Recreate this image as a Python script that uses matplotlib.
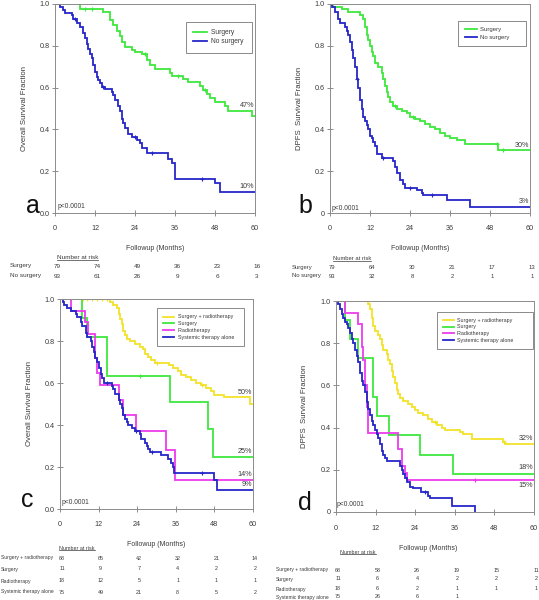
import numpy as np
import matplotlib
matplotlib.use("Agg")
import matplotlib.pyplot as plt
from matplotlib.transforms import blended_transform_factory
from matplotlib.lines import Line2D

plt.rcParams['font.family'] = ['Liberation Sans', 'DejaVu Sans']

# ---------------- data ----------------
xticks = [0, 12, 24, 36, 48, 60]

# Panel a: overall survival, surgery vs no surgery
a_surg_t = [7.5, 14.5, 16.5, 17.5, 18.5, 19.5, 20, 21, 23, 24, 26, 27.5, 28.5, 30, 34.5, 35,
            38.5, 40, 43.5, 44.5, 45.5, 46.5, 48, 51, 52, 59]
a_surg_s = [0.975, 0.96, 0.925, 0.90, 0.87, 0.845, 0.82, 0.795, 0.78, 0.77, 0.76, 0.73, 0.71,
            0.69, 0.67, 0.655, 0.64, 0.625, 0.61, 0.59, 0.57, 0.55, 0.53, 0.51, 0.49, 0.465]
a_nos_t = [1.5, 2.5, 3, 5, 5.5, 6.5, 7.5, 8.5, 9, 9.5, 10, 10.5, 11, 11.5, 12, 12.5, 13, 13.5,
           14, 15, 17, 17.5, 18, 19, 19.5, 20, 20.5, 21, 22, 23, 24.5, 25.5, 26, 27.5, 34, 35,
           36, 48, 49.5]
a_nos_s = [0.985, 0.97, 0.955, 0.945, 0.93, 0.91, 0.89, 0.86, 0.835, 0.81, 0.785, 0.76, 0.74,
           0.71, 0.675, 0.65, 0.635, 0.62, 0.605, 0.595, 0.58, 0.565, 0.54, 0.51, 0.49, 0.45,
           0.43, 0.405, 0.38, 0.365, 0.35, 0.335, 0.31, 0.285, 0.26, 0.24, 0.165, 0.145, 0.10]
a_surg_cens = [9, 11, 27, 37, 45]
a_nos_cens = [6, 14.5, 24, 29, 44]

# Panel b: DPFS, surgery vs no surgery
b_surg_t = [1, 3.5, 5.5, 9, 10, 10.5, 11, 11.5, 12, 12.5, 13, 13.5, 14.5, 15.5, 16, 16.5, 17,
            17.5, 18, 19, 20, 21.5, 23, 24, 25.5, 27, 28.5, 30, 31.5, 33, 34.5, 36, 38, 40.5, 50.5]
b_surg_s = [0.985, 0.975, 0.96, 0.945, 0.93, 0.89, 0.85, 0.83, 0.80, 0.77, 0.75, 0.72, 0.70,
            0.67, 0.64, 0.61, 0.58, 0.555, 0.53, 0.51, 0.50, 0.49, 0.48, 0.46, 0.45, 0.44, 0.425,
            0.41, 0.40, 0.385, 0.37, 0.36, 0.35, 0.33, 0.30]
b_nos_t = [0.5, 1.5, 2.5, 3, 4.5, 5, 5.5, 6, 6.5, 7, 7.5, 8, 8.5, 9, 9.5, 10, 10.5, 11, 11.5,
           12, 12.5, 13, 13.5, 14, 15.5, 19, 19.5, 20, 21, 22, 22.5, 26, 27.5, 28, 35, 42]
b_nos_s = [0.985, 0.96, 0.93, 0.91, 0.89, 0.87, 0.85, 0.82, 0.78, 0.74, 0.70, 0.64, 0.60, 0.54,
           0.50, 0.46, 0.44, 0.42, 0.40, 0.37, 0.36, 0.34, 0.32, 0.28, 0.265, 0.25, 0.22, 0.19,
           0.16, 0.14, 0.12, 0.11, 0.095, 0.085, 0.06, 0.03]
b_surg_cens = [19.5, 25, 50, 52]
b_nos_cens = [8, 16, 24, 30.5]

# Panel c: overall survival by treatment
c_sr_t = [15.6, 16.6, 17.7, 18.2, 18.7, 19.2, 19.7, 20.2, 20.7, 21.8, 23.3, 24.8, 25.8, 26.4,
          27.4, 28.4, 29.4, 34.0, 35.0, 36.6, 37.6, 39.1, 40.7, 42.2, 43.7, 45.3, 46.8, 47.8,
          50.9, 59.0]
c_sr_s = [0.985, 0.97, 0.955, 0.93, 0.905, 0.88, 0.85, 0.83, 0.81, 0.80, 0.785, 0.77, 0.76,
          0.74, 0.725, 0.71, 0.695, 0.685, 0.67, 0.655, 0.64, 0.63, 0.615, 0.60, 0.59, 0.575,
          0.56, 0.545, 0.535, 0.50]
c_s_t = [6.8, 8.5, 14.6, 34.3, 46.0, 47.6]
c_s_s = [0.91, 0.82, 0.635, 0.51, 0.38, 0.25]
c_r_t = [3.4, 7.8, 8.8, 10.9, 11.5, 12.3, 18.2, 19.5, 23.5, 33.0, 35.8]
c_r_s = [0.944, 0.889, 0.833, 0.72, 0.65, 0.59, 0.52, 0.447, 0.37, 0.28, 0.14]
c_b_t = [0.8, 1.3, 2.3, 3.4, 4.9, 5.4, 6.4, 6.9, 8.0, 8.5, 9.5, 10.0, 10.5, 11.0, 11.5, 12.1,
         12.6, 13.1, 13.6, 16.1, 16.6, 17.2, 18.2, 18.7, 19.2, 19.7, 20.2, 20.7, 21.2, 22.3,
         23.3, 24.8, 25.3, 26.4, 26.9, 27.4, 27.9, 31.5, 33.5, 34.5, 35.0, 35.5, 47.8, 48.8]
c_b_s = [0.985, 0.97, 0.955, 0.945, 0.93, 0.915, 0.89, 0.87, 0.84, 0.82, 0.80, 0.77, 0.75,
         0.72, 0.70, 0.67, 0.645, 0.625, 0.60, 0.585, 0.57, 0.55, 0.52, 0.50, 0.48, 0.45, 0.43,
         0.415, 0.40, 0.385, 0.37, 0.355, 0.335, 0.315, 0.30, 0.285, 0.27, 0.255, 0.24, 0.22,
         0.20, 0.17, 0.14, 0.09]
c_sr_cens = [7, 8.5, 10, 11.5, 13, 14.5, 30, 44]
c_s_cens = [25]
c_r_cens = []
c_b_cens = [14.5, 23.5, 28.5, 44]

# Panel d: DPFS by treatment
d_sr_t = [9.8, 10.3, 10.8, 11.3, 11.8, 12.8, 13.3, 13.8, 14.3, 15.4, 15.9, 16.4, 16.9, 17.4,
          17.9, 18.4, 18.9, 19.4, 20.4, 21.9, 22.9, 23.9, 24.9, 26.5, 28.0, 29.0, 30.5, 32.0,
          33.0, 37.6, 38.6, 41.1, 50.7, 51.2]
d_sr_s = [0.985, 0.96, 0.92, 0.88, 0.86, 0.84, 0.82, 0.79, 0.77, 0.75, 0.72, 0.70, 0.67, 0.64,
          0.61, 0.58, 0.56, 0.54, 0.525, 0.51, 0.50, 0.485, 0.47, 0.46, 0.44, 0.425, 0.41, 0.40,
          0.39, 0.38, 0.37, 0.345, 0.33, 0.32]
d_s_t = [2.7, 4.3, 6.8, 11.1, 12.3, 16.2, 25.5, 35.4]
d_s_s = [0.91, 0.82, 0.73, 0.545, 0.455, 0.365, 0.27, 0.18]
d_r_t = [2.7, 6.8, 7.8, 8.3, 8.8, 9.3, 9.8, 18.9, 19.9, 20.9, 21.4]
d_r_s = [0.944, 0.889, 0.78, 0.72, 0.60, 0.50, 0.376, 0.30, 0.22, 0.185, 0.15]
d_b_t = [0.7, 1.2, 1.7, 2.2, 2.7, 3.2, 3.7, 4.2, 4.7, 5.2, 5.8, 6.3, 6.8, 7.3, 7.8, 8.3, 8.8,
         9.3, 9.8, 10.3, 10.8, 11.3, 11.8, 12.3, 12.8, 13.3, 13.8, 14.3, 14.8, 15.4, 19.4, 19.9,
         20.4, 20.9, 21.4, 22.4, 23.4, 25.9, 27.9, 28.5, 35.0, 42.1]
d_b_s = [0.985, 0.96, 0.94, 0.92, 0.90, 0.89, 0.87, 0.85, 0.82, 0.80, 0.77, 0.74, 0.71, 0.66,
         0.62, 0.60, 0.57, 0.52, 0.49, 0.46, 0.43, 0.41, 0.39, 0.37, 0.35, 0.32, 0.29, 0.27,
         0.255, 0.24, 0.22, 0.20, 0.18, 0.16, 0.14, 0.12, 0.115, 0.095, 0.075, 0.065, 0.03, 0.0]
d_sr_cens = [30, 51]
d_s_cens = []
d_r_cens = [42]
d_b_cens = [27]

# risk tables
a_risk_labels = ["Surgery", "No surgery"]
a_risk = [[79, 74, 49, 36, 23, 16], [93, 61, 26, 9, 6, 3]]
b_risk_labels = ["Surgery", "No surgery"]
b_risk = [[79, 64, 30, 21, 17, 13], [93, 32, 8, 2, 1, 1]]
cd_labels = ["Surgery + radiotherapy", "Surgery", "Radiotherapy", "Systemic therapy alone"]
c_risk = [[68, 65, 42, 32, 21, 14], [11, 9, 7, 4, 2, 2], [18, 12, 5, 1, 1, 1], [75, 49, 21, 8, 5, 2]]
d_risk = [[68, 58, 26, 19, 15, 11], [11, 6, 4, 2, 2, 2], [18, 6, 2, 1, 1, 1], [75, 26, 6, 1]]

# percent labels
a_pct = ["47%", "10%"]
b_pct = ["30%", "3%"]
c_pct = ["50%", "25%", "14%", "9%"]
d_pct = ["32%", "18%", "15%"]

# ---------------- styling ----------------
GREEN = "#3ee83e"
BLUE = "#2626c8"
YELLOW = "#f2e22a"
MAGENTA = "#ec3cec"
GRAY = "#8c8c8c"
TXT = "#3a3a3a"

W, H = 539, 600
fig = plt.figure(figsize=(W / 100, H / 100), dpi=100)
fig.patch.set_facecolor("white")


def fx(x):
    return x / W


def fy(y):
    return 1 - y / H


def make_ax(l, r, t, b):
    return fig.add_axes([fx(l), fy(b), fx(r) - fx(l), fy(t) - fy(b)])


def step_fn(t, s, x):
    t = np.asarray(t)
    s = np.asarray(s)
    idx = np.searchsorted(t, x, side="right") - 1
    return np.where(idx < 0, 1.0, s[np.clip(idx, 0, None)])


def km(ax, t, s, color, cens=None, end=60, lw=1.3):
    x = np.concatenate([[0], t])
    y = np.concatenate([[1.0], s])
    if end is not None and end > x[-1]:
        x = np.concatenate([x, [end]])
        y = np.concatenate([y, [y[-1]]])
    line, = ax.step(x, y, where="post", color=color, lw=lw, solid_joinstyle="miter")
    if cens:
        cx = np.asarray(cens, dtype=float)
        ax.plot(cx, step_fn(t, s, cx), ls="none", marker="+", ms=3.5, mew=0.8, color=color)
    return line


def style_ax(ax, ylabel, zero_label, tick_fs=5.2, ylab_fs=5.6, ylab_x=-0.135):
    ax.set_xlim(0, 60)
    ax.set_ylim(0, 1.0)
    ax.set_xticks(xticks)
    ax.set_xticklabels([str(v) for v in xticks])
    yt = [0, 0.2, 0.4, 0.6, 0.8, 1.0]
    ax.set_yticks(yt)
    ax.set_yticklabels([zero_label, "0.2", "0.4", "0.6", "0.8", "1.0"])
    for sp in ax.spines.values():
        sp.set_color(GRAY)
        sp.set_linewidth(0.7)
    ax.tick_params(axis="both", direction="inout", length=4, width=0.7, color=GRAY,
                   labelsize=tick_fs, labelcolor=TXT)
    ax.tick_params(axis="x", pad=7)
    ax.tick_params(axis="y", pad=2)
    ax.set_ylabel(ylabel, fontsize=ylab_fs, color=TXT)
    ax.yaxis.set_label_coords(ylab_x, 0.5)


def legend(ax, handles, labels, anchor, fs, pad_right):
    lg = ax.legend(handles, [l + pad_right for l in labels], loc="upper left",
                   bbox_to_anchor=anchor, fontsize=fs, frameon=True, fancybox=False,
                   edgecolor="#555555", borderpad=1.1, handlelength=2.0, handletextpad=0.6,
                   labelspacing=0.35, borderaxespad=0)
    lg.get_frame().set_linewidth(0.6)
    for txt in lg.get_texts():
        txt.set_color(TXT)
    return lg


# ---------------- panel a ----------------
ax_a = make_ax(55, 255, 4, 213)
la1 = km(ax_a, a_surg_t, a_surg_s, GREEN, a_surg_cens)
la2 = km(ax_a, a_nos_t, a_nos_s, BLUE, a_nos_cens)
style_ax(ax_a, "Overall Survival Fraction", "0.0")
legend(ax_a, [la1, la2], ["Surgery", "No surgery"], (0.655, 0.915), 4.8, " ")
ax_a.text(59.8, step_fn(a_surg_t, a_surg_s, 57) + 0.008, a_pct[0], ha="right", va="bottom",
          fontsize=5.2, color=TXT)
ax_a.text(59.8, step_fn(a_nos_t, a_nos_s, 57) + 0.008, a_pct[1], ha="right", va="bottom",
          fontsize=5.2, color=TXT)

# ---------------- panel b ----------------
ax_b = make_ax(330, 530, 4, 213)
lb1 = km(ax_b, b_surg_t, b_surg_s, GREEN, b_surg_cens)
lb2 = km(ax_b, b_nos_t, b_nos_s, BLUE, b_nos_cens)
style_ax(ax_b, "DPFS  Survival Fraction", "0")
legend(ax_b, [lb1, lb2], ["Surgery", "No surgery"], (0.64, 0.92), 4.3, "      ")
ax_b.text(59.8, step_fn(b_surg_t, b_surg_s, 57) + 0.008, b_pct[0], ha="right", va="bottom",
          fontsize=5.2, color=TXT)
ax_b.text(59.8, step_fn(b_nos_t, b_nos_s, 57) + 0.008, b_pct[1], ha="right", va="bottom",
          fontsize=5.2, color=TXT)

# ---------------- panel c ----------------
ax_c = make_ax(60, 253, 299, 509)
lc1 = km(ax_c, c_sr_t, c_sr_s, YELLOW, c_sr_cens)
lc2 = km(ax_c, c_s_t, c_s_s, GREEN, c_s_cens)
lc3 = km(ax_c, c_r_t, c_r_s, MAGENTA, c_r_cens)
lc4 = km(ax_c, c_b_t, c_b_s, BLUE, c_b_cens)
style_ax(ax_c, "Overall Survival Fraction", "0.0", ylab_x=-0.14)
legend(ax_c, [lc1, lc2, lc3, lc4], cd_labels, (0.505, 0.955), 3.9, "   ")
for lab, (tt, ss), off in zip(c_pct, [(c_sr_t, c_sr_s), (c_s_t, c_s_s), (c_r_t, c_r_s), (c_b_t, c_b_s)],
                              [0.005, 0.008, 0.008, 0.008]):
    ax_c.text(59.8, step_fn(tt, ss, 57) + off, lab, ha="right", va="bottom", fontsize=5.2,
              color=TXT)

# ---------------- panel d ----------------
ax_d = make_ax(336, 534, 301, 512)
ld1 = km(ax_d, d_sr_t, d_sr_s, YELLOW, d_sr_cens)
ld2 = km(ax_d, d_s_t, d_s_s, GREEN, d_s_cens)
ld3 = km(ax_d, d_r_t, d_r_s, MAGENTA, d_r_cens)
ld4 = km(ax_d, d_b_t, d_b_s, BLUE, d_b_cens, end=None)
style_ax(ax_d, "DPFS  Survival Fraction", "0", ylab_x=-0.14)
legend(ax_d, [ld1, ld2, ld3, ld4], cd_labels, (0.51, 0.95), 3.9, "         ")
ax_d.text(59.8, step_fn(d_sr_t, d_sr_s, 57) + 0.012, d_pct[0], ha="right", va="bottom",
          fontsize=5.2, color=TXT)
ax_d.text(59.8, step_fn(d_s_t, d_s_s, 57) + 0.012, d_pct[1], ha="right", va="bottom",
          fontsize=5.2, color=TXT)
ax_d.text(59.8, step_fn(d_r_t, d_r_s, 57) - 0.01, d_pct[2], ha="right", va="top",
          fontsize=5.2, color=TXT)

# ---------------- panel letters and p-values ----------------
for letter, x, y in [("a", 33, 213), ("b", 305, 213), ("c", 27, 507), ("d", 305, 510)]:
    fig.text(fx(x), fy(y), letter, ha="center", va="baseline", fontsize=18, color="#111111")
for x, y in [(58, 207), (332, 208), (62, 503), (337, 505)]:
    fig.text(fx(x), fy(y), "p<0.0001", ha="left", va="center", fontsize=4.8, color=TXT)

# ---------------- x labels ----------------
for xc, y in [(155, 248), (420, 248), (156, 545), (428, 548)]:
    fig.text(fx(xc), fy(y), "Followup (Months)", ha="center", va="center", fontsize=5.0,
             color=TXT)

# ---------------- risk tables ----------------
underline_specs = []


def risk_table(ax, labels, rows, label_x, ys, head_x, head_y, fs, lab_fs):
    tr = blended_transform_factory(ax.transData, fig.transFigure)
    t = fig.text(fx(head_x), fy(head_y), "Number at risk", ha="left", va="center",
                 fontsize=fs, color=TXT)
    underline_specs.append(t)
    for lab, row, y in zip(labels, rows, ys):
        fig.text(fx(label_x), fy(y), lab, ha="left", va="center", fontsize=lab_fs, color=TXT)
        for xv, n in zip(xticks, row):
            ax.text(xv + 0.6, fy(y), str(n), transform=tr, ha="center", va="center",
                    fontsize=fs, color=TXT)


risk_table(ax_a, a_risk_labels, a_risk, 10, [266, 276], 57, 257.5, 4.6, 4.6)
risk_table(ax_b, b_risk_labels, b_risk, 292, [267, 276], 333, 259, 4.2, 4.2)
risk_table(ax_c, cd_labels, c_risk, 1, [558, 569, 581, 592], 59, 548, 3.9, 3.6)
risk_table(ax_d, cd_labels, d_risk, 276, [570, 579, 589, 597], 340, 552, 3.9, 3.6)

fig.canvas.draw()
renderer = fig.canvas.get_renderer()
for t in underline_specs:
    bb = t.get_window_extent(renderer).transformed(fig.transFigure.inverted())
    fig.add_artist(Line2D([bb.x0, bb.x1], [bb.y0 + 0.0005, bb.y0 + 0.0005], color=TXT, lw=0.5,
                          transform=fig.transFigure))

fig.savefig("out.png", dpi=100, facecolor="white")
